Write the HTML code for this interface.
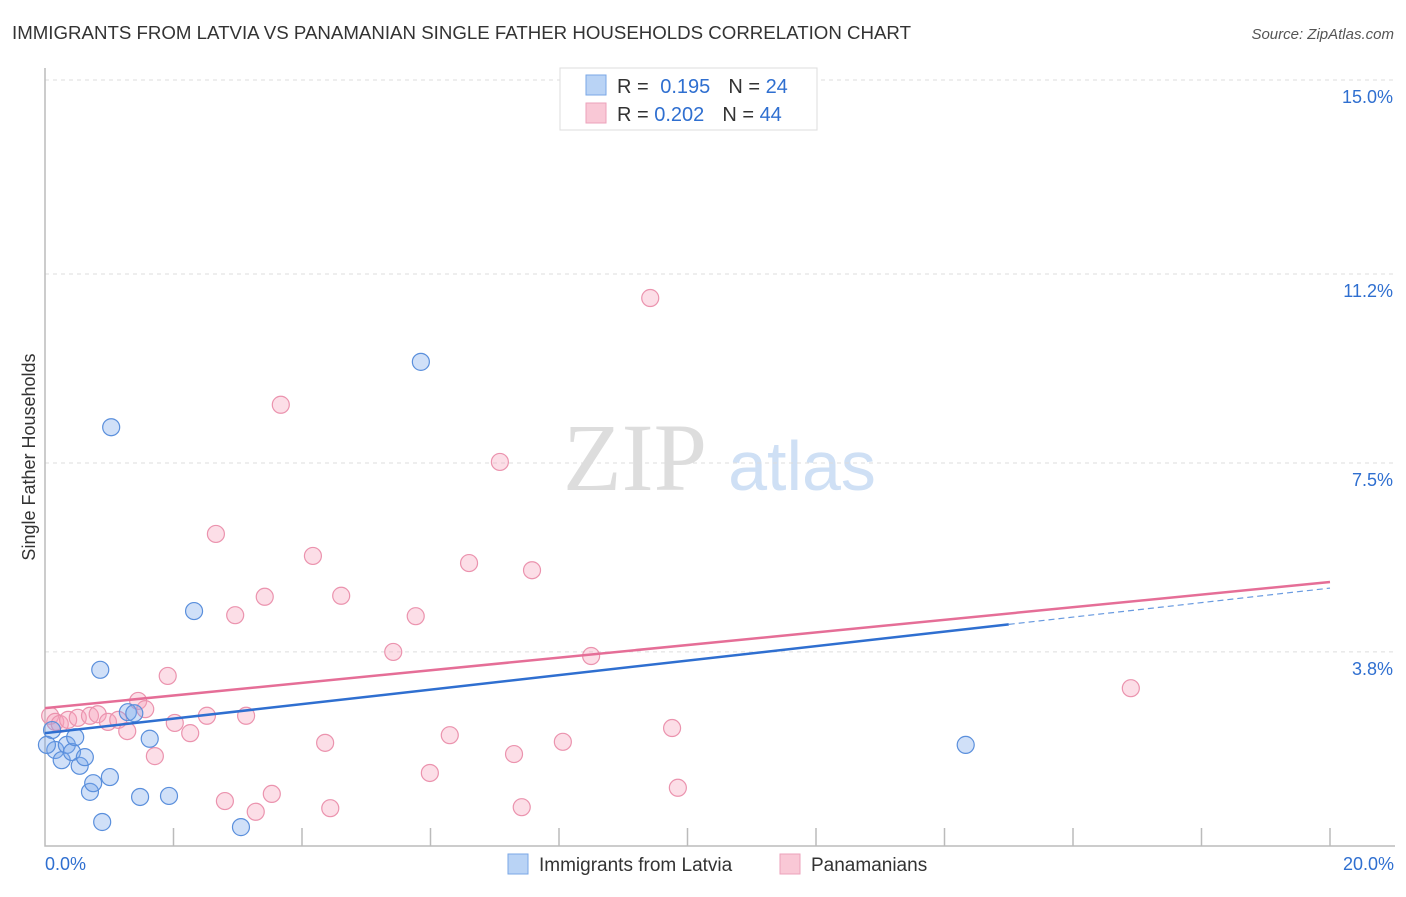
<!DOCTYPE html>
<html><head><meta charset="utf-8"><style>
body{margin:0;background:#fff;font-family:"Liberation Sans",sans-serif}
svg text{font-family:"Liberation Sans",sans-serif}
</style></head><body>
<svg id="c" width="1406" height="892">
<text x="12" y="39" font-size="18" fill="#333" textLength="899" lengthAdjust="spacingAndGlyphs">IMMIGRANTS FROM LATVIA VS PANAMANIAN SINGLE FATHER HOUSEHOLDS CORRELATION CHART</text>
<text x="1394" y="39" font-size="15" fill="#555" text-anchor="end" font-style="italic">Source: ZipAtlas.com</text>
<text x="35" y="457" font-size="18" fill="#333" text-anchor="middle" transform="rotate(-90 35 457)">Single Father Households</text>
<g><text x="635" y="490" font-size="96" fill="#ddd" style="font-family:'Liberation Serif',serif" text-anchor="middle">ZIP</text><text x="802" y="490" font-size="70" fill="#cfe0f5" text-anchor="middle">atlas</text></g>
<g id="grid"></g><g id="marks"></g>
<g>
<rect x="560" y="68" width="257" height="62" fill="#fff" stroke="#ddd"/>
<rect x="586" y="75" width="20" height="20" fill="#b9d3f5" stroke="#7aa7e6"/>
<rect x="586" y="103" width="20" height="20" fill="#f9c8d6" stroke="#eca2bb"/>
<text x="617" y="93" font-size="20" fill="#333">R = <tspan fill="#2f6fd0" dx="6">0.195</tspan><tspan dx="18" fill="#333">N = </tspan><tspan fill="#2f6fd0">24</tspan></text>
<text x="617" y="121" font-size="20" fill="#333">R = <tspan fill="#2f6fd0">0.202</tspan><tspan dx="18" fill="#333">N = </tspan><tspan fill="#2f6fd0">44</tspan></text>
</g>
<g>
<rect x="508" y="854" width="20" height="20" fill="#b9d3f5" stroke="#7aa7e6"/>
<text x="539" y="871" font-size="19" fill="#333">Immigrants from Latvia</text>
<rect x="780" y="854" width="20" height="20" fill="#f9c8d6" stroke="#eca2bb"/>
<text x="811" y="871" font-size="19" fill="#333">Panamanians</text>
</g>
</svg>
<script>
const yTicks=[3.8,7.5,11.2,15.0];
const yTickLabels=["3.8%","7.5%","11.2%","15.0%"];
const xTickLabels=["0.0%","20.0%"];
const blueX=[0.11,0.16,0.26,0.34,0.42,0.47,0.54,0.62,0.70,0.75,0.86,0.89,1.01,1.03,1.29,1.39,1.48,1.63,1.93,2.32,3.05,5.85,14.33,0.03];
const blueY=[2.27,1.88,1.68,1.98,1.84,2.13,1.57,1.74,1.06,1.23,3.45,0.47,1.35,8.20,2.62,2.60,0.96,2.10,0.98,4.60,0.37,9.48,1.98,1.98];
const pinkX=[0.08,0.16,0.23,0.36,0.51,0.70,0.82,0.98,1.14,1.28,1.45,1.56,1.71,1.91,2.02,2.26,2.52,2.66,2.80,2.96,3.13,3.28,3.42,3.53,3.67,4.17,4.36,4.44,4.61,5.42,5.77,5.99,6.30,6.60,7.08,7.30,7.42,7.58,8.06,8.50,9.42,9.76,9.85,16.90];
const pinkY=[2.55,2.43,2.39,2.47,2.51,2.55,2.58,2.43,2.47,2.25,2.84,2.68,1.76,3.33,2.41,2.21,2.55,6.11,0.88,4.52,2.55,0.67,4.88,1.02,8.64,5.68,2.02,0.74,4.90,3.80,4.50,1.43,2.17,5.54,7.52,1.80,0.76,5.40,2.04,3.72,10.73,2.31,1.14,3.09];
const blueTrend=[2.21,0.142];
const pinkTrend=[2.70,0.1235];
const NS="http://www.w3.org/2000/svg";
const X=v=>45+v*64.25, Y=v=>846-v*51.07;
function mk(t,a,p){const e=document.createElementNS(NS,t);for(const k in a)e.setAttribute(k,a[k]);p.appendChild(e);return e;}
const g=document.getElementById('grid'),m=document.getElementById('marks');
yTicks.forEach((t,i)=>{
 const l=mk('line',{x1:45,x2:1395,y1:Y(t),y2:Y(t),stroke:'#ddd','stroke-dasharray':'4,4'},g);
 
 
 const tx=mk('text',{x:1393,y:Y(t)+23,'font-size':18,fill:'#2f6fd0','text-anchor':'end'},g);tx.textContent=yTickLabels[i];
 
 
});
const ax=mk('path',{d:'M45 68V846H1395',fill:'none',stroke:'#bbb','stroke-width':1.5},g);


for(let i=1;i<=10;i++){const t=mk('line',{x1:X(i*2),x2:X(i*2),y1:828,y2:846,stroke:'#bbb','stroke-width':1.5},g);
 
 }
[[0,'start',45],[20,'end',1394]].forEach((d,i)=>{const t=mk('text',{x:d[2],y:870,'font-size':18,fill:'#2f6fd0','text-anchor':d[1]},g);t.textContent=xTickLabels[i];
 
 });
function pts(xs,ys,fill,stroke,name){xs.forEach((x,i)=>{const c=mk('circle',{cx:X(x),cy:Y(ys[i]),r:8.5,fill:fill,stroke:stroke,'stroke-width':1.2},m);
 
 });}
pts(pinkX,pinkY,'rgba(245,160,185,0.35)','#eb93ae','panamanian-point');
pts(blueX,blueY,'rgba(120,165,235,0.35)','#5a8fdc','latvia-point');
let l1=mk('line',{x1:X(0),y1:Y(blueTrend[0]),x2:X(15),y2:Y(blueTrend[0]+blueTrend[1]*15),stroke:'#2f6fd0','stroke-width':2.5},m);


let l2=mk('line',{x1:X(15),y1:Y(blueTrend[0]+blueTrend[1]*15),x2:X(20),y2:Y(blueTrend[0]+blueTrend[1]*20),stroke:'#6a9be0','stroke-width':1.2,'stroke-dasharray':'6,4'},m);


let l3=mk('line',{x1:X(0),y1:Y(pinkTrend[0]),x2:X(20),y2:Y(pinkTrend[0]+pinkTrend[1]*20),stroke:'#e56e97','stroke-width':2.5},m);


</script>
</body></html>
